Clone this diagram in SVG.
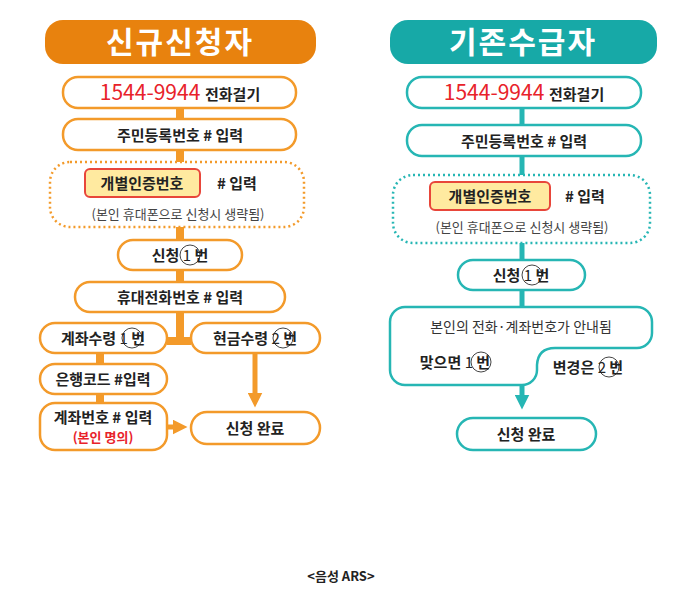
<svg xmlns="http://www.w3.org/2000/svg" width="691" height="603" viewBox="0 0 691 603">
<style>
text{font-family:"Noto Sans CJK KR","Noto Sans",sans-serif;text-anchor:middle;fill:#222}
.b{font-weight:bold;font-size:15px}
.o{fill:#fff;stroke:#F39A2A;stroke-width:2.5}
.t{fill:#fff;stroke:#26B6B4;stroke-width:2.5}
.od{fill:#fff;stroke:#F39A2A;stroke-width:2.5;stroke-dasharray:2 3}
.td{fill:#fff;stroke:#26B6B4;stroke-width:2.5;stroke-dasharray:2 3}
.y{fill:#FFEAA0;stroke:#E8463A;stroke-width:2}
.c{fill:#fff;stroke:#444;stroke-width:1}
.n{font-size:15px;font-weight:normal}
.r{fill:#E8222A}
</style>
<defs>
<marker id="ao" markerWidth="3" markerHeight="3" refX="1.5" refY="1.5" orient="auto"><path d="M0,0L3,1.5L0,3z" fill="#F39A2A"/></marker>
<marker id="at" markerWidth="3" markerHeight="3" refX="1.5" refY="1.5" orient="auto"><path d="M0,0L3,1.5L0,3z" fill="#26B6B4"/></marker>
</defs>
<rect width="691" height="603" fill="#fff"/>
<g id="connectors">
<path d="M180,108V341H191M180,341H167" stroke="#F39A2A" stroke-width="8" fill="none"/>
<path d="M100,353V404" stroke="#F39A2A" stroke-width="8" fill="none"/>
<path d="M255,353V400" stroke="#F39A2A" stroke-width="5" fill="none" marker-end="url(#ao)"/>
<path d="M167,427H180" stroke="#F39A2A" stroke-width="5" fill="none" marker-end="url(#ao)"/>
<path d="M522,108V310" stroke="#26B6B4" stroke-width="5" fill="none"/>
<path d="M522,385V402" stroke="#26B6B4" stroke-width="5" fill="none" marker-end="url(#at)"/>
</g>
<g id="title-left"><rect x="45" y="20" width="271" height="44" rx="18" fill="#E8820E"/><text x="180" y="53" style="font-size:30px;font-weight:bold;fill:#fff;letter-spacing:2px">신규신청자</text></g>
<g id="title-right"><rect x="390" y="20" width="267" height="44" rx="18" fill="#17A9A7"/><text x="523" y="53" style="font-size:30px;font-weight:bold;fill:#fff;letter-spacing:2px">기존수급자</text></g>

<g id="l1"><rect class="o" x="63" y="77" width="233" height="31" rx="15"/><text x="180" y="100" class="b"><tspan class="r" style="font-size:21px;font-weight:normal">1544-9944 </tspan>전화걸기</text></g>
<g id="l2"><rect class="o" x="63" y="119" width="233" height="31" rx="15"/><text x="180" y="141" class="b">주민등록번호 # 입력</text></g>
<g id="l3"><rect class="od" x="50" y="162" width="254" height="65" rx="20"/><rect class="y" x="85" y="169" width="115" height="28" rx="5"/><text x="142" y="189" class="b">개별인증번호</text><text x="237" y="189" class="b">#  입력</text><text x="178" y="219" style="font-size:13px;fill:#444">(본인 휴대폰으로 신청시 생략됨)</text></g>
<g id="l4"><rect class="o" x="118" y="240" width="124" height="30" rx="15"/><circle class="c" cx="190" cy="255" r="10"/><text x="180" y="261" class="b">신청  <tspan class="n">1</tspan>  번</text></g>
<g id="l5"><rect class="o" x="75" y="282" width="210" height="30" rx="15"/><text x="180" y="303" class="b">휴대전화번호 # 입력</text></g>
<g id="l6"><rect class="o" x="40" y="323" width="127" height="30" rx="15"/><circle class="c" cx="132" cy="338" r="10"/><text x="103" y="344" class="b">계좌수령  <tspan class="n">1</tspan>  번</text></g>
<g id="l6b"><rect class="o" x="191" y="323" width="129" height="30" rx="15"/><circle class="c" cx="283" cy="338" r="10"/><text x="255" y="344" class="b">현금수령  <tspan class="n">2</tspan>  번</text></g>
<g id="l7"><rect class="o" x="40" y="364" width="127" height="30" rx="15"/><text x="103" y="385" class="b">은행코드 #입력</text></g>
<g id="l8"><rect class="o" x="40" y="403" width="127" height="47" rx="15"/><text x="103" y="423" class="b">계좌번호 # 입력</text><text x="103" y="442" class="r" style="font-size:13px;font-weight:bold">(본인 명의)</text></g>
<g id="l9"><rect class="o" x="191" y="412" width="129" height="32" rx="16"/><text x="255" y="434" class="b">신청 완료</text></g>

<g id="r1"><rect class="t" x="407" y="77" width="234" height="31" rx="15"/><text x="524" y="100" class="b"><tspan class="r" style="font-size:21px;font-weight:normal">1544-9944 </tspan>전화걸기</text></g>
<g id="r2"><rect class="t" x="407" y="125" width="234" height="31" rx="15"/><text x="524" y="147" class="b">주민등록번호 # 입력</text></g>
<g id="r3"><rect class="td" x="393" y="175" width="257" height="68" rx="20"/><rect class="y" x="430" y="182" width="120" height="28" rx="5"/><text x="490" y="202" class="b">개별인증번호</text><text x="585" y="202" class="b"># 입력</text><text x="522" y="232" style="font-size:13px;fill:#444">(본인 휴대폰으로 신청시 생략됨)</text></g>
<g id="r4"><rect class="t" x="458" y="260" width="127" height="30" rx="15"/><circle class="c" cx="532" cy="275" r="10"/><text x="521" y="281" class="b">신청 <tspan class="n">1</tspan> 번</text></g>
<g id="r5"><path class="t" d="M405,307H637A15,15 0 0 1 652,322V333A15,15 0 0 1 637,348H555Q538,348 537,365V370A15,15 0 0 1 522,385H405A15,15 0 0 1 390,370V322A15,15 0 0 1 405,307Z"/>
<text x="521" y="332" style="font-size:14px;fill:#333">본인의 전화·계좌번호가 안내됨</text>
<circle class="c" cx="481" cy="362" r="10"/><text x="455" y="368" class="b">맞으면  <tspan class="n">1</tspan>  번</text>
<circle class="c" cx="609" cy="367" r="10"/><text x="588" y="373" class="b">변경은 <tspan class="n">2</tspan> 번</text></g>
<g id="r6"><rect class="t" x="457" y="418" width="139" height="32" rx="16"/><text x="526" y="440" class="b">신청 완료</text></g>
<text x="341" y="581" style="font-size:13px;font-weight:bold">&lt;음성 ARS&gt;</text>
</svg>
